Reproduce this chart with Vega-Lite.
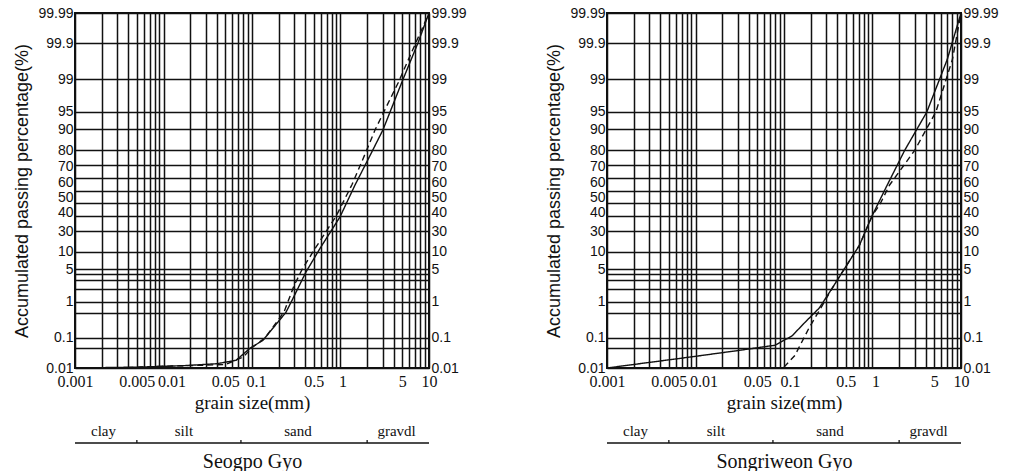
{
  "$schema": "https://vega.github.io/schema/vega-lite/v6.json",
  "background": "white",
  "padding": {"left": 12, "top": 5, "right": 5, "bottom": 0},
  "datasets": {
    "seogpo": [
      {"sample": "sample 1", "size": 0.001, "pct": 0.01},
      {"sample": "sample 1", "size": 0.005, "pct": 0.011},
      {"sample": "sample 1", "size": 0.0166, "pct": 0.0127},
      {"sample": "sample 1", "size": 0.04, "pct": 0.015},
      {"sample": "sample 1", "size": 0.066, "pct": 0.019},
      {"sample": "sample 1", "size": 0.095, "pct": 0.048},
      {"sample": "sample 1", "size": 0.133, "pct": 0.086},
      {"sample": "sample 1", "size": 0.242, "pct": 0.54},
      {"sample": "sample 1", "size": 0.29, "pct": 1.2},
      {"sample": "sample 1", "size": 0.407, "pct": 4.4},
      {"sample": "sample 1", "size": 0.587, "pct": 11.4},
      {"sample": "sample 1", "size": 0.986, "pct": 29},
      {"sample": "sample 1", "size": 1.46, "pct": 54.6},
      {"sample": "sample 1", "size": 2.04, "pct": 74},
      {"sample": "sample 1", "size": 3.02, "pct": 89.8},
      {"sample": "sample 1", "size": 5.0, "pct": 98.9},
      {"sample": "sample 1", "size": 7.5, "pct": 99.9},
      {"sample": "sample 1", "size": 10, "pct": 99.99},
      {"sample": "sample 2", "size": 0.003, "pct": 0.01},
      {"sample": "sample 2", "size": 0.01, "pct": 0.012},
      {"sample": "sample 2", "size": 0.05, "pct": 0.014},
      {"sample": "sample 2", "size": 0.08, "pct": 0.025},
      {"sample": "sample 2", "size": 0.1, "pct": 0.05},
      {"sample": "sample 2", "size": 0.14, "pct": 0.1},
      {"sample": "sample 2", "size": 0.23, "pct": 0.55},
      {"sample": "sample 2", "size": 0.3, "pct": 2.4},
      {"sample": "sample 2", "size": 0.37, "pct": 5},
      {"sample": "sample 2", "size": 0.53, "pct": 12},
      {"sample": "sample 2", "size": 0.9, "pct": 30},
      {"sample": "sample 2", "size": 1.35, "pct": 55},
      {"sample": "sample 2", "size": 1.78, "pct": 74},
      {"sample": "sample 2", "size": 2.46, "pct": 89.8},
      {"sample": "sample 2", "size": 4.5, "pct": 98.8},
      {"sample": "sample 2", "size": 10, "pct": 99.99}
    ],
    "songriweon": [
      {"sample": "sample 1", "size": 0.001, "pct": 0.01},
      {"sample": "sample 1", "size": 0.009, "pct": 0.025},
      {"sample": "sample 1", "size": 0.03, "pct": 0.041},
      {"sample": "sample 1", "size": 0.079, "pct": 0.06},
      {"sample": "sample 1", "size": 0.123, "pct": 0.12},
      {"sample": "sample 1", "size": 0.173, "pct": 0.29},
      {"sample": "sample 1", "size": 0.25, "pct": 0.69},
      {"sample": "sample 1", "size": 0.351, "pct": 2.05},
      {"sample": "sample 1", "size": 0.493, "pct": 5.4},
      {"sample": "sample 1", "size": 0.711, "pct": 12.7},
      {"sample": "sample 1", "size": 1.0, "pct": 30.4},
      {"sample": "sample 1", "size": 1.41, "pct": 52},
      {"sample": "sample 1", "size": 2.31, "pct": 80},
      {"sample": "sample 1", "size": 4.11, "pct": 95},
      {"sample": "sample 1", "size": 7.0, "pct": 99.7},
      {"sample": "sample 1", "size": 10, "pct": 99.99},
      {"sample": "sample 2", "size": 0.1, "pct": 0.011},
      {"sample": "sample 2", "size": 0.133, "pct": 0.028},
      {"sample": "sample 2", "size": 0.192, "pct": 0.2},
      {"sample": "sample 2", "size": 0.285, "pct": 0.97},
      {"sample": "sample 2", "size": 0.351, "pct": 2.05},
      {"sample": "sample 2", "size": 0.493, "pct": 5.4},
      {"sample": "sample 2", "size": 0.711, "pct": 12.7},
      {"sample": "sample 2", "size": 1.0, "pct": 30.4},
      {"sample": "sample 2", "size": 1.2, "pct": 38},
      {"sample": "sample 2", "size": 1.56, "pct": 54.6},
      {"sample": "sample 2", "size": 3.0, "pct": 80},
      {"sample": "sample 2", "size": 5.2, "pct": 95},
      {"sample": "sample 2", "size": 8.0, "pct": 99.7},
      {"sample": "sample 2", "size": 10, "pct": 99.99}
    ],
    "zones": [
      {"zone": "clay", "size": 0.0021},
      {"zone": "silt", "size": 0.017},
      {"zone": "sand", "size": 0.33},
      {"zone": "gravdl", "size": 4.3}
    ],
    "bounds": [
      {"size": 0.005},
      {"size": 0.075},
      {"size": 2}
    ],
    "scaleline": [
      {"from": 0.001, "to": 10}
    ]
  },
  "hconcat": [
    {
      "spacing": 10,
      "vconcat": [
        {
          "width": 354,
          "height": 355,
          "data": {"name": "seogpo"},
          "encoding": {
            "x": {"field": "size", "type": "quantitative",
              "scale": {"type": "log", "domain": [0.001, 10], "nice": false},
              "axis": {"title": "grain size(mm)", "orient": "bottom",
                "values": [0.001,0.002,0.003,0.004,0.005,0.006,0.007,0.008,0.009,0.01,0.02,0.03,0.04,0.05,0.06,0.07,0.08,0.09,0.1,0.2,0.3,0.4,0.5,0.6,0.7,0.8,0.9,1,2,3,4,5,6,7,8,9,10],
                "labelExpr": "indexof(['0.001','0.005','0.01','0.05','0.1','0.5','1','5','10'], toString(datum.value)) >= 0 ? toString(datum.value) : ''",
                "labelOffset": {"condition": [
                  {"test": "datum.value === 0.01", "value": 8},
                  {"test": "datum.value === 0.1", "value": 4},
                  {"test": "datum.value === 1", "value": 2}], "value": 0},
                "grid": true, "gridColor": "#111", "gridWidth": 1.5, "gridOpacity": 1,
                "ticks": false, "domain": false,
                "labelFont": "Liberation Serif", "labelFontSize": 16, "labelColor": "#111", "labelPadding": 5,
                "labelFlush": false, "labelOverlap": false, "labelBound": false,
                "titleFont": "Liberation Serif", "titleFontSize": 19, "titleFontWeight": "normal", "titleColor": "#111", "titlePadding": 4}
            }
          },
          "layer": [
            {
              "mark": {"type": "line", "color": "#111", "strokeWidth": 1.4},
              "encoding": {
                "y": {"field": "pct", "type": "quantitative",
                  "scale": {"type": "linear", "nice": false, "zero": false,
                    "domain": [0.01,0.02,0.03,0.05,0.07,0.1,0.2,0.3,0.5,0.7,1,1.5,2,3,4,5,7,10,15,20,25,30,35,40,45,50,55,60,65,70,75,80,85,90,93,95,97,98,98.5,99,99.3,99.5,99.7,99.8,99.9,99.93,99.95,99.97,99.98,99.99],
                    "range": [355,346.46,341.28,334.55,329.97,324.99,314.87,308.64,300.44,294.78,288.53,281.07,275.52,267.27,261.06,256.01,247.94,238.67,226.96,217.67,209.69,202.53,195.89,189.59,183.5,177.5,171.5,165.41,159.11,152.47,145.31,137.33,128.04,116.33,107.06,98.99,87.73,79.48,73.93,66.47,60.22,54.56,46.36,40.13,30.01,25.03,20.45,13.72,8.54,0]},
                  "axis": {"orient": "left", "title": "Accumulated passing percentage(%)",
                    "values": [0.01,0.05,0.1,0.5,1,2,3,4,5,10,20,30,40,50,60,70,80,90,95,99,99.9,99.99],
                    "labelExpr": "indexof(['0.05','0.5','2','3','4','20'], toString(datum.value)) >= 0 ? '' : toString(datum.value)",
                    "labelOffset": {"condition": [
                      {"test": "datum.value === 70", "value": 1},
                      {"test": "datum.value === 60", "value": 4},
                      {"test": "datum.value === 50", "value": 7},
                      {"test": "datum.value === 40", "value": 10},
                      {"test": "datum.value === 30", "value": 16}], "value": 0},
                    "grid": true, "gridColor": "#111", "gridWidth": 1.7, "gridOpacity": 1,
                    "ticks": false, "domain": false,
                    "labelFont": "Liberation Sans", "labelFontSize": 14, "labelColor": "#111", "labelPadding": 2,
                    "labelOverlap": false, "labelFlush": false, "labelBound": false,
                    "titleFont": "Liberation Sans", "titleFontSize": 18, "titleFontWeight": "normal", "titleColor": "#111", "titlePadding": 6}
                },
                "strokeDash": {"field": "sample", "type": "nominal",
                  "scale": {"domain": ["sample 1", "sample 2"], "range": [[1, 0], [6, 4]]}, "legend": null}
              }
            },
            {
              "mark": {"type": "point", "opacity": 0},
              "encoding": {
                "y": {"field": "pct", "type": "quantitative",
                  "axis": {"orient": "right", "title": null,
                    "values": [0.01,0.1,1,5,10,30,40,50,60,70,80,90,95,99,99.9,99.99],
                    "labelExpr": "toString(datum.value)",
                    "labelOffset": {"condition": [
                      {"test": "datum.value === 70", "value": 1},
                      {"test": "datum.value === 60", "value": 4},
                      {"test": "datum.value === 50", "value": 7},
                      {"test": "datum.value === 40", "value": 10},
                      {"test": "datum.value === 30", "value": 16}], "value": 0},
                    "grid": false, "ticks": false, "domain": false,
                    "labelFont": "Liberation Sans", "labelFontSize": 14, "labelColor": "#111", "labelPadding": 2,
                    "labelOverlap": false, "labelFlush": false, "labelBound": false}
                }
              }
            }
          ],
          "resolve": {"axis": {"y": "independent"}}
        },
        {
          "width": 354,
          "height": 20,
          "view": {"stroke": null},
          "layer": [
            {
              "data": {"name": "scaleline"},
              "mark": {"type": "rule", "color": "#111", "strokeWidth": 1.3},
              "encoding": {
                "x": {"field": "from", "type": "quantitative",
                  "scale": {"type": "log", "domain": [0.001, 10], "nice": false},
                  "axis": {"title": "Seogpo Gyo", "labels": false, "ticks": false, "domain": false, "grid": false,
                    "titleFont": "Liberation Serif", "titleFontSize": 20, "titleFontWeight": "normal", "titleColor": "#111", "titlePadding": 8}},
                "x2": {"field": "to"},
                "y": {"datum": 0, "type": "quantitative", "scale": {"domain": [0, 1]}, "axis": null}
              }
            },
            {
              "data": {"name": "bounds"},
              "mark": {"type": "rule", "color": "#111", "strokeWidth": 1.3},
              "encoding": {
                "x": {"field": "size", "type": "quantitative"},
                "y": {"datum": 0, "type": "quantitative"},
                "y2": {"datum": 0.15}
              }
            },
            {
              "data": {"name": "zones"},
              "mark": {"type": "text", "baseline": "bottom", "font": "Liberation Serif", "fontSize": 15, "color": "#111"},
              "encoding": {
                "x": {"field": "size", "type": "quantitative"},
                "y": {"datum": 0.2, "type": "quantitative"},
                "text": {"field": "zone"}
              }
            }
          ]
        }
      ]
    },
    {
      "spacing": 10,
      "vconcat": [
        {
          "width": 354,
          "height": 355,
          "data": {"name": "songriweon"},
          "encoding": {
            "x": {"field": "size", "type": "quantitative",
              "scale": {"type": "log", "domain": [0.001, 10], "nice": false},
              "axis": {"title": "grain size(mm)", "orient": "bottom",
                "values": [0.001,0.002,0.003,0.004,0.005,0.006,0.007,0.008,0.009,0.01,0.02,0.03,0.04,0.05,0.06,0.07,0.08,0.09,0.1,0.2,0.3,0.4,0.5,0.6,0.7,0.8,0.9,1,2,3,4,5,6,7,8,9,10],
                "labelExpr": "indexof(['0.001','0.005','0.01','0.05','0.1','0.5','1','5','10'], toString(datum.value)) >= 0 ? toString(datum.value) : ''",
                "labelOffset": {"condition": [
                  {"test": "datum.value === 0.01", "value": 8},
                  {"test": "datum.value === 0.1", "value": 6},
                  {"test": "datum.value === 1", "value": 3}], "value": 0},
                "grid": true, "gridColor": "#111", "gridWidth": 1.5, "gridOpacity": 1,
                "ticks": false, "domain": false,
                "labelFont": "Liberation Serif", "labelFontSize": 16, "labelColor": "#111", "labelPadding": 5,
                "labelFlush": false, "labelOverlap": false, "labelBound": false,
                "titleFont": "Liberation Serif", "titleFontSize": 19, "titleFontWeight": "normal", "titleColor": "#111", "titlePadding": 4}
            }
          },
          "layer": [
            {
              "mark": {"type": "line", "color": "#111", "strokeWidth": 1.4},
              "encoding": {
                "y": {"field": "pct", "type": "quantitative",
                  "scale": {"type": "linear", "nice": false, "zero": false,
                    "domain": [0.01,0.02,0.03,0.05,0.07,0.1,0.2,0.3,0.5,0.7,1,1.5,2,3,4,5,7,10,15,20,25,30,35,40,45,50,55,60,65,70,75,80,85,90,93,95,97,98,98.5,99,99.3,99.5,99.7,99.8,99.9,99.93,99.95,99.97,99.98,99.99],
                    "range": [355,346.46,341.28,334.55,329.97,324.99,314.87,308.64,300.44,294.78,288.53,281.07,275.52,267.27,261.06,256.01,247.94,238.67,226.96,217.67,209.69,202.53,195.89,189.59,183.5,177.5,171.5,165.41,159.11,152.47,145.31,137.33,128.04,116.33,107.06,98.99,87.73,79.48,73.93,66.47,60.22,54.56,46.36,40.13,30.01,25.03,20.45,13.72,8.54,0]},
                  "axis": {"orient": "left", "title": "Accumulated passing percentage(%)",
                    "values": [0.01,0.05,0.1,0.5,1,2,3,4,5,10,20,30,40,50,60,70,80,90,95,99,99.9,99.99],
                    "labelExpr": "indexof(['0.05','0.5','2','3','4','20'], toString(datum.value)) >= 0 ? '' : toString(datum.value)",
                    "labelOffset": {"condition": [
                      {"test": "datum.value === 70", "value": 1},
                      {"test": "datum.value === 60", "value": 4},
                      {"test": "datum.value === 50", "value": 7},
                      {"test": "datum.value === 40", "value": 10},
                      {"test": "datum.value === 30", "value": 16}], "value": 0},
                    "grid": true, "gridColor": "#111", "gridWidth": 1.7, "gridOpacity": 1,
                    "ticks": false, "domain": false,
                    "labelFont": "Liberation Sans", "labelFontSize": 14, "labelColor": "#111", "labelPadding": 2,
                    "labelOverlap": false, "labelFlush": false, "labelBound": false,
                    "titleFont": "Liberation Sans", "titleFontSize": 18, "titleFontWeight": "normal", "titleColor": "#111", "titlePadding": 6}
                },
                "strokeDash": {"field": "sample", "type": "nominal",
                  "scale": {"domain": ["sample 1", "sample 2"], "range": [[1, 0], [6, 4]]}, "legend": null}
              }
            },
            {
              "mark": {"type": "point", "opacity": 0},
              "encoding": {
                "y": {"field": "pct", "type": "quantitative",
                  "axis": {"orient": "right", "title": null,
                    "values": [0.01,0.1,1,5,10,30,40,50,60,70,80,90,95,99,99.9,99.99],
                    "labelExpr": "toString(datum.value)",
                    "labelOffset": {"condition": [
                      {"test": "datum.value === 70", "value": 1},
                      {"test": "datum.value === 60", "value": 4},
                      {"test": "datum.value === 50", "value": 7},
                      {"test": "datum.value === 40", "value": 10},
                      {"test": "datum.value === 30", "value": 16}], "value": 0},
                    "grid": false, "ticks": false, "domain": false,
                    "labelFont": "Liberation Sans", "labelFontSize": 14, "labelColor": "#111", "labelPadding": 2,
                    "labelOverlap": false, "labelFlush": false, "labelBound": false}
                }
              }
            }
          ],
          "resolve": {"axis": {"y": "independent"}}
        },
        {
          "width": 354,
          "height": 20,
          "view": {"stroke": null},
          "layer": [
            {
              "data": {"name": "scaleline"},
              "mark": {"type": "rule", "color": "#111", "strokeWidth": 1.3},
              "encoding": {
                "x": {"field": "from", "type": "quantitative",
                  "scale": {"type": "log", "domain": [0.001, 10], "nice": false},
                  "axis": {"title": "Songriweon Gyo", "labels": false, "ticks": false, "domain": false, "grid": false,
                    "titleFont": "Liberation Serif", "titleFontSize": 20, "titleFontWeight": "normal", "titleColor": "#111", "titlePadding": 8}},
                "x2": {"field": "to"},
                "y": {"datum": 0, "type": "quantitative", "scale": {"domain": [0, 1]}, "axis": null}
              }
            },
            {
              "data": {"name": "bounds"},
              "mark": {"type": "rule", "color": "#111", "strokeWidth": 1.3},
              "encoding": {
                "x": {"field": "size", "type": "quantitative"},
                "y": {"datum": 0, "type": "quantitative"},
                "y2": {"datum": 0.15}
              }
            },
            {
              "data": {"name": "zones"},
              "mark": {"type": "text", "baseline": "bottom", "font": "Liberation Serif", "fontSize": 15, "color": "#111"},
              "encoding": {
                "x": {"field": "size", "type": "quantitative"},
                "y": {"datum": 0.2, "type": "quantitative"},
                "text": {"field": "zone"}
              }
            }
          ]
        }
      ]
    }
  ],
  "spacing": 76,
  "config": {
    "view": {"stroke": "#111", "strokeWidth": 2}
  }
}
